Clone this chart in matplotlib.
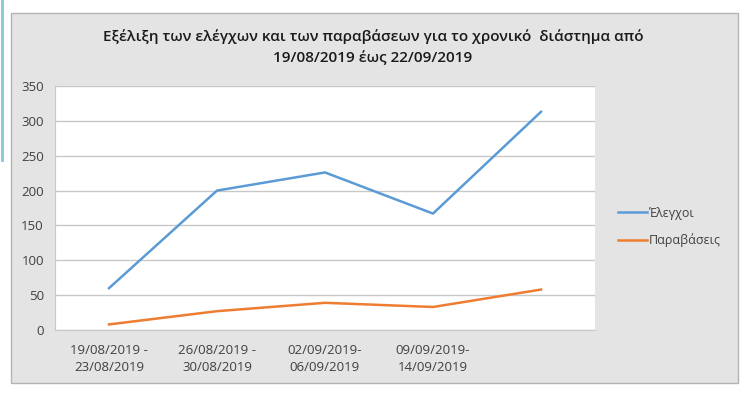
import matplotlib.pyplot as plt
from matplotlib.patches import Rectangle

plt.rcParams['font.family'] = ['Open Sans', 'DejaVu Sans']

# data
periods = ["19/08/2019 -\n23/08/2019", "26/08/2019 -\n30/08/2019",
           "02/09/2019-\n06/09/2019", "09/09/2019-\n14/09/2019", ""]
elegxoi = [60, 200, 226, 167, 313]
paravaseis = [8, 27, 39, 33, 58]

fig = plt.figure(figsize=(7.43, 3.96), dpi=100)
fig.patch.set_facecolor('white')

# grey chart panel
panel = Rectangle((11 / 743, 1 - 383 / 396), 727 / 743, 370 / 396,
                  transform=fig.transFigure, facecolor='#e4e4e4',
                  edgecolor='#b4b4b4', linewidth=1, zorder=-10)
fig.add_artist(panel)

# little blue strip at the left edge of the screenshot
fig.add_artist(plt.Line2D([1.5 / 743, 1.5 / 743], [1, 1 - 160 / 396],
                          transform=fig.transFigure, color='#8cc4d8', lw=2))

ax = fig.add_axes([55 / 743, 1 - 330 / 396, 540 / 743, 244 / 396])
ax.set_facecolor('white')

x = range(len(periods))
ax.plot(x, elegxoi, color='#5b9bd5', lw=1.8, label='Έλεγχοι')
ax.plot(x, paravaseis, color='#ed7d31', lw=1.8, label='Παραβάσεις')

ax.set_xlim(-0.5, len(periods) - 0.5)
ax.set_ylim(0, 350)
ax.set_yticks(range(0, 351, 50))
ax.set_xticks(list(x))
ax.set_xticklabels(periods, fontsize=9.5, color='#404040', linespacing=1.45)
ax.tick_params(axis='y', labelsize=9.5, labelcolor='#404040', length=0, pad=8)
ax.tick_params(axis='x', length=0, pad=10)
ax.grid(axis='y', color='#c8c8c8', lw=1)
ax.set_axisbelow(True)
for s in ['top', 'right']:
    ax.spines[s].set_visible(False)
ax.spines['left'].set_color('#c8c8c8')
ax.spines['bottom'].set_color('#c8c8c8')

fig.text(373 / 743, 1 - 37 / 396,
         "Εξέλιξη των ελέγχων και των παραβάσεων για το χρονικό  διάστημα από",
         ha='center', va='center', fontsize=11, fontweight='semibold', color='#1a1a1a')
fig.text(373 / 743, 1 - 58 / 396, "19/08/2019 έως 22/09/2019",
         ha='center', va='center', fontsize=11, fontweight='semibold', color='#1a1a1a')

leg = fig.legend(loc='center left', bbox_to_anchor=(607 / 743, 1 - 227 / 396),
                 frameon=False, fontsize=9, handlelength=2.3, handletextpad=0.15,
                 labelspacing=1.1)
for t in leg.get_texts():
    t.set_color('#404040')

fig.savefig('out.png', dpi=100, facecolor=fig.get_facecolor())
